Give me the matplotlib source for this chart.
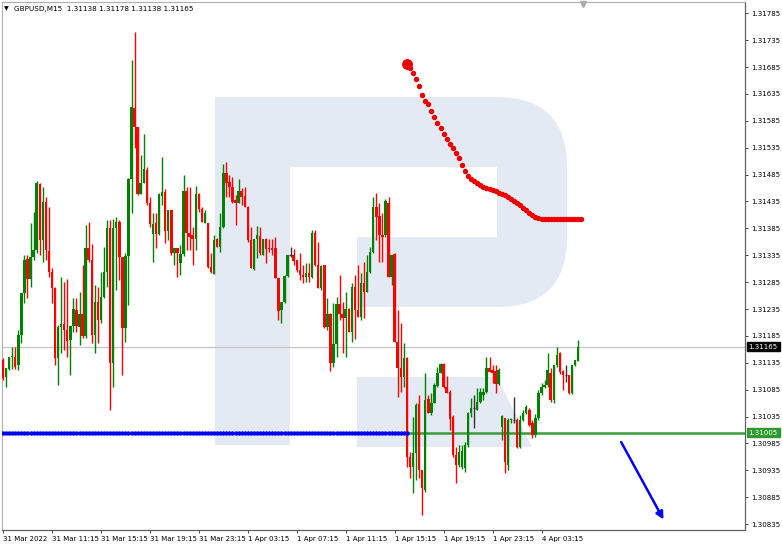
import matplotlib
matplotlib.use("Agg")
import matplotlib.pyplot as plt
import matplotlib.transforms as mtransforms
from matplotlib.patches import PathPatch, Polygon
from matplotlib.path import Path

plt.rcParams['font.family'] = ['DejaVu Sans']

# ---------------- data (GBPUSD M15) ----------------
opens = [1.31140, 1.31109, 1.31124, 1.31146, 1.31146, 1.31131, 1.31187, 1.31265, 1.31328, 1.31291,
         1.31332, 1.31345, 1.31468, 1.31364, 1.31434, 1.31343, 1.31304, 1.31274, 1.31144, 1.31202,
         1.31207, 1.31196, 1.31178, 1.31204, 1.31233, 1.31202, 1.31226, 1.31185, 1.31349, 1.31326,
         1.31187, 1.31248, 1.31215, 1.31258, 1.31304, 1.31386, 1.31135, 1.31386, 1.31397, 1.31332,
         1.31200, 1.31334, 1.31477, 1.31609, 1.31574, 1.31449, 1.31470, 1.31494, 1.31432, 1.31375,
         1.31395, 1.31375, 1.31445, 1.31453, 1.31380, 1.31419, 1.31339, 1.31349, 1.31321, 1.31338,
         1.31455, 1.31377, 1.31373, 1.31365, 1.31449, 1.31421, 1.31395, 1.31395, 1.31313, 1.31300,
         1.31365, 1.31351, 1.31388, 1.31488, 1.31471, 1.31462, 1.31438, 1.31432, 1.31455, 1.31445,
         1.31425, 1.31364, 1.31310, 1.31365, 1.31371, 1.31336, 1.31365, 1.31349, 1.31349, 1.31349,
         1.31293, 1.31233, 1.31248, 1.31297, 1.31336, 1.31336, 1.31326, 1.31308, 1.31298, 1.31295,
         1.31302, 1.31295, 1.31377, 1.31317, 1.31274, 1.31317, 1.31202, 1.31226, 1.31135, 1.31170,
         1.31245, 1.31226, 1.31219, 1.31235, 1.31192, 1.31276, 1.31233, 1.31220, 1.31284, 1.31267,
         1.31304, 1.31341, 1.31425, 1.31408, 1.31373, 1.31373, 1.31432, 1.31295, 1.31338, 1.31174,
         1.31126, 1.31109, 1.31144, 1.30960, 1.30941, 1.30967, 1.31059, 1.30936, 1.30899, 1.31068,
         1.31042, 1.31060, 1.31092, 1.31116, 1.31133, 1.31090, 1.31081, 1.31034, 1.30964, 1.30945,
         1.30941, 1.30940, 1.30982, 1.31042, 1.31051, 1.31047, 1.31062, 1.31075, 1.31081, 1.31126,
         1.31122, 1.31120, 1.31096, 1.31016, 1.31033, 1.30945, 1.31029, 1.31029, 1.31029, 1.30979,
         1.31029, 1.31042, 1.31047, 1.31023, 1.31001, 1.31033, 1.31079, 1.31090, 1.31094, 1.31116,
         1.31066, 1.31131, 1.31153, 1.31120, 1.31112, 1.31112, 1.31079, 1.31131, 1.31138]

highs = [1.31144, 1.31126, 1.31146, 1.31165, 1.31165, 1.31196, 1.31265, 1.31336, 1.31336, 1.31395,
         1.31416, 1.31473, 1.31470, 1.31462, 1.31444, 1.31425, 1.31312, 1.31276, 1.31205, 1.31295,
         1.31285, 1.31291, 1.31204, 1.31256, 1.31256, 1.31267, 1.31317, 1.31391, 1.31397, 1.31356,
         1.31280, 1.31276, 1.31304, 1.31351, 1.31401, 1.31401, 1.31403, 1.31406, 1.31401, 1.31332,
         1.31339, 1.31479, 1.31698, 1.31750, 1.31574, 1.31522, 1.31561, 1.31499, 1.31444, 1.31414,
         1.31414, 1.31451, 1.31518, 1.31458, 1.31419, 1.31419, 1.31349, 1.31349, 1.31354, 1.31484,
         1.31462, 1.31462, 1.31388, 1.31464, 1.31451, 1.31425, 1.31419, 1.31395, 1.31339, 1.31373,
         1.31367, 1.31414, 1.31505, 1.31509, 1.31484, 1.31481, 1.31447, 1.31477, 1.31460, 1.31462,
         1.31427, 1.31388, 1.31365, 1.31390, 1.31388, 1.31365, 1.31367, 1.31365, 1.31365, 1.31369,
         1.31293, 1.31248, 1.31298, 1.31336, 1.31351, 1.31347, 1.31326, 1.31339, 1.31317, 1.31321,
         1.31321, 1.31382, 1.31382, 1.31360, 1.31317, 1.31317, 1.31256, 1.31228, 1.31246, 1.31258,
         1.31298, 1.31248, 1.31267, 1.31237, 1.31284, 1.31298, 1.31317, 1.31302, 1.31323, 1.31336,
         1.31351, 1.31444, 1.31451, 1.31432, 1.31414, 1.31440, 1.31444, 1.31336, 1.31339, 1.31233,
         1.31209, 1.31172, 1.31146, 1.30969, 1.31034, 1.31060, 1.31075, 1.30936, 1.31116, 1.31075,
         1.31079, 1.31098, 1.31127, 1.31135, 1.31135, 1.31111, 1.31085, 1.31038, 1.30979, 1.30982,
         1.30982, 1.30988, 1.31044, 1.31070, 1.31075, 1.31088, 1.31088, 1.31088, 1.31146, 1.31146,
         1.31131, 1.31131, 1.31126, 1.31038, 1.31033, 1.31033, 1.31033, 1.31072, 1.31033, 1.31038,
         1.31047, 1.31057, 1.31051, 1.31029, 1.31040, 1.31085, 1.31098, 1.31103, 1.31153, 1.31126,
         1.31131, 1.31165, 1.31155, 1.31122, 1.31131, 1.31112, 1.31131, 1.31140, 1.31178]

lows = [1.31103, 1.31090, 1.31122, 1.31124, 1.31124, 1.31122, 1.31172, 1.31246, 1.31256, 1.31276,
        1.31326, 1.31339, 1.31336, 1.31323, 1.31326, 1.31295, 1.31246, 1.31131, 1.31094, 1.31153,
        1.31159, 1.31146, 1.31112, 1.31192, 1.31192, 1.31168, 1.31181, 1.31181, 1.31323, 1.31172,
        1.31153, 1.31172, 1.31209, 1.31256, 1.31276, 1.31047, 1.31090, 1.31271, 1.31289, 1.31112,
        1.31174, 1.31243, 1.31414, 1.31535, 1.31447, 1.31449, 1.31470, 1.31429, 1.31388, 1.31323,
        1.31349, 1.31373, 1.31429, 1.31358, 1.31364, 1.31336, 1.31317, 1.31295, 1.31298, 1.31334,
        1.31345, 1.31345, 1.31317, 1.31345, 1.31416, 1.31397, 1.31395, 1.31312, 1.31302, 1.31300,
        1.31351, 1.31341, 1.31386, 1.31444, 1.31444, 1.31432, 1.31391, 1.31432, 1.31429, 1.31425,
        1.31360, 1.31312, 1.31308, 1.31330, 1.31336, 1.31336, 1.31321, 1.31341, 1.31336, 1.31293,
        1.31215, 1.31209, 1.31246, 1.31295, 1.31332, 1.31317, 1.31304, 1.31289, 1.31284, 1.31285,
        1.31285, 1.31293, 1.31315, 1.31274, 1.31271, 1.31200, 1.31196, 1.31120, 1.31127, 1.31146,
        1.31215, 1.31153, 1.31146, 1.31192, 1.31174, 1.31179, 1.31220, 1.31215, 1.31219, 1.31267,
        1.31302, 1.31339, 1.31364, 1.31323, 1.31323, 1.31369, 1.31295, 1.31280, 1.31174, 1.31072,
        1.31081, 1.31090, 1.30941, 1.30921, 1.30893, 1.30917, 1.30921, 1.30852, 1.30895, 1.31042,
        1.31038, 1.31060, 1.31090, 1.31116, 1.31088, 1.31079, 1.31010, 1.30960, 1.30912, 1.30941,
        1.30938, 1.30932, 1.30979, 1.31034, 1.31014, 1.31047, 1.31060, 1.31066, 1.31079, 1.31118,
        1.31098, 1.31079, 1.31094, 1.30992, 1.30930, 1.30936, 1.31023, 1.31023, 1.30977, 1.30977,
        1.31027, 1.31040, 1.31018, 1.30995, 1.30997, 1.31029, 1.31075, 1.31088, 1.31090, 1.31062,
        1.31060, 1.31127, 1.31114, 1.31085, 1.31099, 1.31077, 1.31077, 1.31129, 1.31138]

closes = [1.31107, 1.31126, 1.31146, 1.31148, 1.31127, 1.31187, 1.31265, 1.31326, 1.31291, 1.31332,
          1.31345, 1.31470, 1.31364, 1.31434, 1.31345, 1.31304, 1.31274, 1.31144, 1.31202, 1.31207,
          1.31196, 1.31176, 1.31204, 1.31235, 1.31204, 1.31226, 1.31185, 1.31349, 1.31326, 1.31187,
          1.31248, 1.31215, 1.31258, 1.31304, 1.31386, 1.31135, 1.31386, 1.31397, 1.31332, 1.31200,
          1.31334, 1.31477, 1.31611, 1.31574, 1.31449, 1.31470, 1.31496, 1.31432, 1.31393, 1.31393,
          1.31375, 1.31449, 1.31453, 1.31380, 1.31419, 1.31339, 1.31349, 1.31339, 1.31338, 1.31455,
          1.31377, 1.31369, 1.31365, 1.31449, 1.31421, 1.31397, 1.31414, 1.31313, 1.31304, 1.31364,
          1.31351, 1.31388, 1.31488, 1.31470, 1.31462, 1.31434, 1.31432, 1.31455, 1.31444, 1.31425,
          1.31364, 1.31312, 1.31365, 1.31373, 1.31339, 1.31365, 1.31347, 1.31347, 1.31345, 1.31293,
          1.31232, 1.31248, 1.31297, 1.31336, 1.31336, 1.31325, 1.31308, 1.31298, 1.31295, 1.31302,
          1.31295, 1.31377, 1.31317, 1.31274, 1.31315, 1.31202, 1.31226, 1.31135, 1.31170, 1.31245,
          1.31226, 1.31219, 1.31235, 1.31192, 1.31276, 1.31233, 1.31220, 1.31284, 1.31267, 1.31304,
          1.31341, 1.31425, 1.31406, 1.31373, 1.31369, 1.31436, 1.31295, 1.31336, 1.31174, 1.31126,
          1.31109, 1.31144, 1.30960, 1.30941, 1.30967, 1.31057, 1.30936, 1.30902, 1.31066, 1.31042,
          1.31060, 1.31094, 1.31116, 1.31133, 1.31090, 1.31079, 1.31031, 1.30964, 1.30945, 1.30969,
          1.30971, 1.30982, 1.31042, 1.31051, 1.31051, 1.31062, 1.31081, 1.31081, 1.31126, 1.31118,
          1.31116, 1.31096, 1.31122, 1.31036, 1.30951, 1.31029, 1.31031, 1.31029, 1.30979, 1.31029,
          1.31042, 1.31053, 1.31019, 1.31001, 1.31033, 1.31079, 1.31090, 1.31094, 1.31122, 1.31066,
          1.31131, 1.31150, 1.31118, 1.31112, 1.31112, 1.31079, 1.31131, 1.31140, 1.31165]

# red forecast dots, one per bar starting at bar index 132
forecast_start = 132
forecast = [1.31691, 1.31684, 1.31674, 1.31663, 1.31650, 1.31633, 1.31622, 1.31617, 1.31604, 1.31592,
            1.31581, 1.31572, 1.31561, 1.31551, 1.31542, 1.31535, 1.31525, 1.31516, 1.31503, 1.31492,
            1.31483, 1.31477, 1.31473, 1.31470, 1.31466, 1.31462, 1.31460, 1.31458, 1.31457, 1.31455,
            1.31451, 1.31449, 1.31447, 1.31444, 1.31440, 1.31436, 1.31432, 1.31429, 1.31423, 1.31419,
            1.31414, 1.31410, 1.31406, 1.31405, 1.31403, 1.31403, 1.31403, 1.31403, 1.31403, 1.31403,
            1.31403, 1.31403, 1.31403, 1.31403, 1.31403, 1.31403, 1.31403, 1.31403]

level = 1.31005          # green support line / blue dotted line
level_end_bar = 132      # blue dotted segment ends here
last_price = 1.31165
arrow_start = (201.6, 1.30992)
arrow_end = (216.3, 1.30839)

tick_bars = [0, 16, 32, 48, 64, 80, 96, 112, 128, 144, 160, 176]
tick_labels = ["31 Mar 2022", "31 Mar 11:15", "31 Mar 15:15", "31 Mar 19:15", "31 Mar 23:15",
               "1 Apr 03:15", "1 Apr 07:15", "1 Apr 11:15", "1 Apr 15:15", "1 Apr 19:15",
               "1 Apr 23:15", "4 Apr 03:15"]
price_ticks = [1.30835, 1.30885, 1.30935, 1.30985, 1.31035, 1.31085, 1.31135, 1.31185, 1.31235,
               1.31285, 1.31335, 1.31385, 1.31435, 1.31485, 1.31535, 1.31585, 1.31635, 1.31685,
               1.31735, 1.31785]
title = "GBPUSD,M15  1.31138 1.31178 1.31138 1.31165"

# ---------------- figure ----------------
W, H = 782, 545
fig = plt.figure(figsize=(W / 100, H / 100), dpi=100)
fig.patch.set_facecolor("white")

# background axes in pixel coordinates for the watermark logo
bg = fig.add_axes([0, 0, 1, 1], zorder=0)
bg.set_xlim(0, W)
bg.set_ylim(H, 0)
bg.axis("off")
wm = "#e4eaf3"
verts = [(215, 97), (497, 97), (567, 97), (567, 167), (567, 237), (567, 307), (497, 307),
         (357, 307), (357, 237), (497, 237), (497, 167), (290, 167), (290, 445), (215, 445), (215, 97)]
codes = [Path.MOVETO, Path.LINETO, Path.CURVE3, Path.CURVE3, Path.LINETO, Path.CURVE3, Path.CURVE3,
         Path.LINETO, Path.LINETO, Path.LINETO, Path.LINETO, Path.LINETO, Path.LINETO, Path.LINETO,
         Path.CLOSEPOLY]
bg.add_patch(PathPatch(Path(verts, codes), facecolor=wm, edgecolor="none"))
bg.add_patch(Polygon([(357, 377), (497, 377), (532, 447), (357, 447)], closed=True,
                     facecolor=wm, edgecolor="none"))
bg.plot([583], [4], marker="v", color="#a8a8a8", ms=5)

# main chart axes
ax = fig.add_axes([2 / W, (H - 530) / H, 743 / W, 528 / H], zorder=1)
ax.patch.set_alpha(0)
ax.set_xlim(-0.33, 242.5)
ax.set_ylim(1.30824, 1.31806)

GREEN = "#008000"
RED = "#ff0000"

ax.axhline(last_price, color="#c8c8c8", lw=1.0, zorder=1)
ax.axhline(level, color="#3c9c3c", lw=1.8, zorder=2)

for i, (o, h, l, c) in enumerate(zip(opens, highs, lows, closes)):
    if c > o:
        col = GREEN
    elif c < o:
        col = RED
    else:
        col = "#333333"
    ax.vlines(i, min(l, o, c), max(h, o, c), color=col, lw=1.0, zorder=3)
    if c != o:
        ax.bar(i, abs(c - o), bottom=min(o, c), width=0.8, color=col, lw=0, zorder=4)
    else:
        ax.hlines(o, i - 0.4, i + 0.4, color=col, lw=0.9, zorder=4)

# blue dotted level segment
bars_lvl = list(range(0, level_end_bar + 1))
ax.plot(bars_lvl, [level] * len(bars_lvl), color="#1030ff", lw=2.5, zorder=5)
ax.plot(bars_lvl, [level] * len(bars_lvl), ls="none", marker="o", ms=2.6,
        mfc="#0000ff", mec="#0000cc", mew=0.3, zorder=6)

# red forecast dots
fx = list(range(forecast_start, forecast_start + len(forecast)))
ax.plot(fx, forecast, ls="none", marker="o", ms=2.9, color="#ee0000", mec="#ee0000", zorder=6)
ax.plot([fx[0]], [forecast[0]], ls="none", marker="o", ms=6.8, color="#ee0000", zorder=7)

# blue arrow
ax.annotate("", xy=arrow_end, xytext=arrow_start,
            arrowprops=dict(arrowstyle="-|>", color="#0000ff", lw=1.8, mutation_scale=11),
            zorder=6)

# axes styling
for s in ["top", "left"]:
    ax.spines[s].set_color("#b0b0b0")
    ax.spines[s].set_linewidth(0.8)
for s in ["right", "bottom"]:
    ax.spines[s].set_color("#606060")
    ax.spines[s].set_linewidth(0.9)

ax.yaxis.tick_right()
ax.set_yticks(price_ticks)
ax.set_yticklabels([f"{p:.5f}" for p in price_ticks])
ax.tick_params(axis="y", direction="out", length=2.5, width=0.7, color="#404040",
               labelsize=5.0, pad=2, labelcolor="#000000")
ax.set_xticks(tick_bars)
ax.set_xticklabels(tick_labels)
ax.tick_params(axis="x", direction="out", length=2.5, width=0.7, color="#404040",
               labelsize=5.0, pad=1.5, labelcolor="#000000")
for lab in ax.get_xticklabels():
    lab.set_horizontalalignment("left")

# price label boxes on the right axis
trans = mtransforms.blended_transform_factory(ax.transAxes, ax.transData)
ax.text(1.005, last_price, f"{last_price:.5f}", transform=trans, color="white", fontsize=5.0,
        va="center", ha="left", zorder=10, clip_on=False,
        bbox=dict(boxstyle="square,pad=0.25", fc="black", ec="black"))
ax.text(1.005, level, f"{level:.5f}", transform=trans, color="white", fontsize=5.0,
        va="center", ha="left", zorder=10, clip_on=False,
        bbox=dict(boxstyle="square,pad=0.25", fc="#2f9a2f", ec="#2f9a2f"))

# title
fig.text(4 / W, 1 - 9 / H, "\u25BC", fontsize=4.5, va="center", ha="left", color="black")
fig.text(14 / W, 1 - 9 / H, title, fontsize=5.2, va="center", ha="left", color="black")

fig.savefig("out.png", dpi=100, facecolor="white")
